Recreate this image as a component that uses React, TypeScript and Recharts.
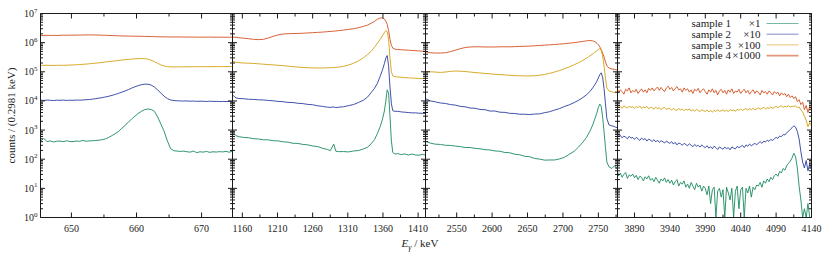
import { LineChart, Line, XAxis, YAxis } from 'recharts';

const W = 830;
const H = 263;
const TOP = 13.5;
const BOTTOM = 217.5;
const AXIS = '#1a1a1a';
const FONT = "'Liberation Serif', 'DejaVu Serif', 'Times New Roman', serif";

const seriesNames = ['sample 1', 'sample 2', 'sample 3', 'sample 4'];
const seriesScale = ['\u00d71', '\u00d710', '\u00d7100', '\u00d71000'];
const seriesColors = ['#1b8a5e', '#2b3d9e', '#d3a012', '#d2501f'];

// y axis: decades and minor multipliers
const yDecades = [1, 10, 100, 1e3, 1e4, 1e5, 1e6, 1e7];
const yMinorSteps = [2, 3, 4, 5, 6, 7, 8, 9];

// ---- panel 1 (Cs-137 region)
const p1Domain = [645.25, 674.75];
const p1Major = [650, 660, 670];
const p1Minor = [655, 665];
const p1Energy = [
  645.25, 645.75, 646.25, 646.75, 647.25, 647.75, 648.25, 648.75, 649.25, 649.75,
  650.25, 650.75, 651.25, 651.75, 652.25, 652.75, 653.25, 653.75, 654.25, 654.75,
  655.25, 655.75, 656.25, 656.75, 657.25, 657.75, 658.25, 658.75, 659.25, 659.75,
  660.25, 660.75, 661.25, 661.75, 662.25, 662.75, 663.25, 663.75, 664.25, 664.75,
  665.25, 665.75, 666.25, 666.75, 667.25, 667.75, 668.25, 668.75, 669.25, 669.75,
  670.25, 670.75, 671.25, 671.75, 672.25, 672.75, 673.25, 673.75, 674.25, 674.75,
];
const p1Sample1 = [
  410, 520, 400, 425, 390, 415, 420, 400, 430, 405,
  400, 420, 410, 440, 415, 425, 430, 440, 450, 470,
  500, 560, 650, 760, 900, 1150, 1450, 1850, 2400, 3000,
  3700, 4400, 5000, 5300, 5100, 4400, 2800, 1600, 900, 420,
  230, 195, 190, 185, 190, 180, 175, 190, 168, 180,
  175, 185, 172, 180, 176, 182, 178, 186, 174, 188,
];
const p1Sample2 = [
  1.06e4, 1.04e4, 1.07e4, 1.05e4, 1.03e4, 1.06e4, 1.05e4, 1.07e4, 1.04e4, 1.06e4,
  1.05e4, 1.07e4, 1.06e4, 1.08e4, 1.1e4, 1.12e4, 1.15e4, 1.2e4, 1.25e4, 1.3e4,
  1.37e4, 1.45e4, 1.55e4, 1.68e4, 1.83e4, 2.0e4, 2.2e4, 2.45e4, 2.75e4, 3.05e4,
  3.35e4, 3.6e4, 3.75e4, 3.75e4, 3.5e4, 3.0e4, 2.4e4, 1.85e4, 1.45e4, 1.2e4,
  1.08e4, 1.03e4, 1.01e4, 1.0e4, 9.9e3, 1.0e4, 9.8e3, 9.9e3, 9.7e3, 9.8e3,
  9.7e3, 9.6e3, 9.8e3, 9.6e3, 9.7e3, 9.5e3, 9.6e3, 9.5e3, 9.6e3, 9.5e3,
];
const p1Sample3 = [
  1.68e5, 1.66e5, 1.67e5, 1.65e5, 1.66e5, 1.67e5, 1.66e5, 1.68e5, 1.67e5, 1.7e5,
  1.72e5, 1.74e5, 1.77e5, 1.8e5, 1.84e5, 1.88e5, 1.93e5, 1.98e5, 2.03e5, 2.1e5,
  2.17e5, 2.24e5, 2.3e5, 2.37e5, 2.45e5, 2.52e5, 2.6e5, 2.66e5, 2.72e5, 2.78e5,
  2.83e5, 2.85e5, 2.82e5, 2.72e5, 2.5e5, 2.22e5, 1.95e5, 1.72e5, 1.58e5, 1.5e5,
  1.48e5, 1.47e5, 1.48e5, 1.47e5, 1.48e5, 1.49e5, 1.48e5, 1.49e5, 1.5e5, 1.49e5,
  1.5e5, 1.49e5, 1.5e5, 1.5e5, 1.51e5, 1.5e5, 1.51e5, 1.5e5, 1.52e5, 1.51e5,
];
const p1Sample4 = [
  1.78e6, 1.76e6, 1.79e6, 1.77e6, 1.78e6, 1.76e6, 1.78e6, 1.8e6, 1.79e6, 1.81e6,
  1.8e6, 1.82e6, 1.81e6, 1.83e6, 1.84e6, 1.85e6, 1.84e6, 1.83e6, 1.82e6, 1.8e6,
  1.79e6, 1.77e6, 1.75e6, 1.73e6, 1.72e6, 1.7e6, 1.69e6, 1.68e6, 1.67e6, 1.66e6,
  1.66e6, 1.65e6, 1.64e6, 1.63e6, 1.62e6, 1.6e6, 1.59e6, 1.58e6, 1.58e6, 1.57e6,
  1.57e6, 1.56e6, 1.57e6, 1.56e6, 1.56e6, 1.55e6, 1.56e6, 1.55e6, 1.55e6, 1.54e6,
  1.55e6, 1.54e6, 1.55e6, 1.54e6, 1.54e6, 1.53e6, 1.54e6, 1.53e6, 1.54e6, 1.53e6,
];

// ---- panel 2 (1368 keV region)
const p2Domain = [1146, 1420.5];
const p2Major = [1160, 1210, 1260, 1310, 1360, 1410];
const p2Minor = [1185, 1235, 1285, 1335, 1385];
const p2Energy = [
  1146, 1151, 1155, 1162, 1169, 1176, 1183, 1190, 1197, 1204,
  1211, 1218, 1225, 1232, 1239, 1246, 1253, 1260, 1267, 1274,
  1281, 1285, 1290, 1293, 1297, 1304, 1311, 1318, 1325, 1332,
  1338, 1343, 1348, 1352, 1356, 1359, 1362, 1364, 1366, 1368,
  1370, 1372, 1374, 1377, 1381, 1386, 1391, 1396, 1401, 1406,
  1411, 1416, 1420.5,
];
const p2Sample1 = [
  850, 640, 590, 560, 545, 505, 495, 465, 462, 432,
  425, 395, 385, 352, 348, 322, 312, 285, 272, 238,
  216, 196, 330, 188, 182, 183, 178, 192, 198, 224,
  258, 335, 470, 760, 1300, 2200, 4500, 9500, 2.4e4, 1.9e4,
  3000, 420, 170, 150, 156, 144, 152, 139, 150, 141,
  137, 146, 140,
];
const p2Sample2 = [
  1.6e4, 1.27e4, 1.21e4, 1.19e4, 1.14e4, 1.13e4, 1.09e4, 1.08e4, 1.04e4, 1.01e4,
  9.6e3, 9.4e3, 8.9e3, 8.8e3, 8.3e3, 8.1e3, 7.6e3, 7.4e3, 6.8e3, 6.5e3,
  6.1e3, 6.0e3, 6.2e3, 5.9e3, 6.1e3, 6.3e3, 6.9e3, 7.5e3, 8.8e3, 1.05e4,
  1.35e4, 1.9e4, 2.7e4, 4.0e4, 7.0e4, 1.1e5, 1.9e5, 2.9e5, 3.6e5, 1.6e5,
  3.0e4, 8e3, 4.6e3, 4.4e3, 4.4e3, 4.2e3, 4.1e3, 4.0e3, 3.9e3, 3.9e3,
  3.8e3, 3.75e3, 3.7e3,
];
const p2Sample3 = [
  2.3e5, 2.12e5, 2.06e5, 2.0e5, 1.97e5, 1.93e5, 1.88e5, 1.82e5, 1.77e5, 1.72e5,
  1.67e5, 1.62e5, 1.56e5, 1.5e5, 1.45e5, 1.41e5, 1.38e5, 1.36e5, 1.35e5, 1.35e5,
  1.37e5, 1.38e5, 1.4e5, 1.42e5, 1.45e5, 1.55e5, 1.7e5, 1.95e5, 2.35e5, 3.0e5,
  3.9e5, 5.0e5, 7.0e5, 9.5e5, 1.3e6, 1.7e6, 2.2e6, 2.6e6, 2.4e6, 1.3e6,
  3.0e5, 1.0e5, 7.2e4, 6.8e4, 6.6e4, 6.5e4, 6.3e4, 6.2e4, 6.1e4, 6.0e4,
  5.9e4, 5.9e4, 5.8e4,
];
const p2Sample4 = [
  1.55e6, 1.52e6, 1.48e6, 1.42e6, 1.36e6, 1.3e6, 1.27e6, 1.3e6, 1.45e6, 1.65e6,
  1.85e6, 1.98e6, 2.03e6, 2.05e6, 2.07e6, 2.1e6, 2.15e6, 2.2e6, 2.25e6, 2.3e6,
  2.38e6, 2.42e6, 2.47e6, 2.52e6, 2.58e6, 2.7e6, 2.85e6, 3.0e6, 3.25e6, 3.6e6,
  4.0e6, 4.6e6, 5.4e6, 6.3e6, 7.0e6, 7.1e6, 6.5e6, 5.5e6, 4.2e6, 2.6e6,
  1.3e6, 8.0e5, 6.5e5, 6.0e5, 5.8e5, 5.7e5, 5.6e5, 5.5e5, 5.4e5, 5.3e5,
  5.2e5, 5.1e5, 5.0e5,
];

// ---- panel 3 (2754 keV region)
const p3Domain = [2506, 2777];
const p3Major = [2550, 2600, 2650, 2700, 2750];
const p3Minor = [2525, 2575, 2625, 2675, 2725, 2775];
const p3Energy = [
  2506, 2513, 2520, 2527, 2534, 2541, 2548, 2555, 2562, 2569,
  2576, 2583, 2590, 2597, 2604, 2611, 2618, 2625, 2632, 2639,
  2646, 2653, 2660, 2667, 2674, 2681, 2688, 2695, 2702, 2709,
  2716, 2722, 2728, 2733, 2738, 2742, 2745, 2748, 2750, 2752,
  2754, 2756, 2758, 2760, 2762, 2765, 2769, 2773, 2777,
];
const p3Sample1 = [
  420, 355, 328, 322, 300, 298, 282, 272, 252, 252,
  236, 228, 212, 208, 192, 188, 170, 167, 148, 142,
  126, 122, 106, 101, 93, 94, 94, 102, 116, 148,
  188, 262, 380, 550, 900, 1500, 2400, 4000, 6000, 7800,
  6500, 2800, 900, 250, 80, 55, 48, 60, 45,
];
const p3Sample2 = [
  1.2e4, 1.0e4, 9.3e3, 8.5e3, 8.2e3, 7.5e3, 7.2e3, 6.5e3, 6.3e3, 5.7e3,
  5.6e3, 5.1e3, 5.0e3, 4.5e3, 4.5e3, 4.1e3, 4.05e3, 3.75e3, 3.7e3, 3.5e3,
  3.5e3, 3.4e3, 3.55e3, 3.6e3, 3.95e3, 4.25e3, 4.85e3, 5.45e3, 6.45e3, 7.35e3,
  8.8e3, 1.05e4, 1.3e4, 1.6e4, 2.1e4, 2.8e4, 3.6e4, 4.8e4, 6.2e4, 8.0e4,
  9.2e4, 6.5e4, 2.7e4, 8e3, 2.5e3, 1.5e3, 1.4e3, 1.3e3, 1.2e3,
];
const p3Sample3 = [
  1.0e5, 1.0e5, 9.8e4, 9.5e4, 9.8e4, 1.03e5, 1.06e5, 1.05e5, 1.02e5, 9.8e4,
  9.4e4, 9.1e4, 8.8e4, 8.5e4, 8.2e4, 8.0e4, 7.8e4, 7.6e4, 7.4e4, 7.3e4,
  7.2e4, 7.2e4, 7.3e4, 7.6e4, 8.1e4, 8.8e4, 9.8e4, 1.1e5, 1.27e5, 1.48e5,
  1.75e5, 2.05e5, 2.45e5, 2.9e5, 3.5e5, 4.1e5, 4.7e5, 5.3e5, 5.8e5, 6.2e5,
  5.5e5, 3.5e5, 1.6e5, 6e4, 2.8e4, 2.2e4, 2.05e4, 1.95e4, 1.9e4,
];
const p3Sample4 = [
  4.8e5, 4.5e5, 4.4e5, 4.4e5, 4.5e5, 4.9e5, 5.5e5, 6.2e5, 6.8e5, 7.1e5,
  7.2e5, 7.2e5, 7.1e5, 7.1e5, 7.1e5, 7.2e5, 7.2e5, 7.2e5, 7.3e5, 7.4e5,
  7.5e5, 7.6e5, 7.8e5, 8.0e5, 8.2e5, 8.4e5, 8.6e5, 8.9e5, 9.2e5, 9.6e5,
  1.0e6, 1.05e6, 1.1e6, 1.15e6, 1.18e6, 1.15e6, 1.08e6, 9.5e5, 8.5e5, 7.2e5,
  5.8e5, 4.4e5, 3.2e5, 2.2e5, 1.6e5, 1.35e5, 1.25e5, 1.2e5, 1.15e5,
];

// ---- panel 4 (high energy region), 2.5 keV spacing
const p4Domain = [3866, 4140];
const p4Major = [3890, 3940, 3990, 4040, 4090, 4140];
const p4Minor = [3915, 3965, 4015, 4065, 4115];
const p4Energy = [
  3866, 3867.5, 3870, 3872.5, 3875, 3877.5, 3880, 3882.5, 3885, 3887.5,
  3890, 3892.5, 3895, 3897.5, 3900, 3902.5, 3905, 3907.5, 3910, 3912.5,
  3915, 3917.5, 3920, 3922.5, 3925, 3927.5, 3930, 3932.5, 3935, 3937.5,
  3940, 3942.5, 3945, 3947.5, 3950, 3952.5, 3955, 3957.5, 3960, 3962.5,
  3965, 3967.5, 3970, 3972.5, 3975, 3977.5, 3980, 3982.5, 3985, 3987.5,
  3990, 3992.5, 3995, 3997.5, 4000, 4002.5, 4005, 4007.5, 4010, 4012.5,
  4015, 4017.5, 4020, 4022.5, 4025, 4027.5, 4030, 4032.5, 4035, 4037.5,
  4040, 4042.5, 4045, 4047.5, 4050, 4052.5, 4055, 4057.5, 4060, 4062.5,
  4065, 4067.5, 4070, 4072.5, 4075, 4077.5, 4080, 4082.5, 4085, 4087.5,
  4090, 4092.5, 4095, 4097.5, 4100, 4102.5, 4105, 4107.5, 4110, 4112.5,
  4115, 4117.5, 4120, 4122.5, 4125, 4127.5, 4130, 4132.5, 4135, 4137.5,
  4140,
];
const p4Sample1 = [
  38, 27, 33, 24, 30, 35, 22, 29, 26, 31,
  23, 28, 20, 26, 24, 18, 25, 21, 27, 19,
  22, 17, 24, 19, 15, 21, 18, 23, 16, 20,
  15, 19, 13, 17, 20, 12, 16, 14, 18, 11,
  14, 10, 16, 12, 9, 15, 11, 13, 8, 12,
  10, 6, 12, 3, 9, 11, 1, 8, 10, 5,
  9, 1, 11, 7, 4, 10, 1, 8, 12, 2,
  9, 11, 1, 10, 7, 12, 5, 11, 9, 13,
  12, 16, 11, 18, 15, 21, 17, 24, 20, 27,
  31, 26, 38, 34, 48, 42, 60, 72, 85, 110,
  160, 120, 50, 12, 4, 1, 2, 1, 3, 1,
  1,
];
const p4Sample2 = [
  700, 600, 660, 540, 620, 570, 500, 610, 530, 560,
  480, 560, 500, 440, 530, 470, 510, 420, 490, 450,
  410, 470, 390, 450, 380, 430, 400, 360, 420, 380,
  350, 400, 330, 380, 310, 360, 340, 300, 350, 320,
  290, 340, 300, 270, 320, 280, 300, 260, 310, 270,
  250, 290, 240, 270, 230, 280, 250, 215, 265, 240,
  220, 260, 230, 250, 210, 265, 240, 225, 275, 250,
  270, 300, 250, 310, 280, 330, 290, 320, 350, 310,
  360, 400, 350, 420, 390, 450, 410, 480, 440, 500,
  560, 520, 620, 600, 700, 680, 820, 900, 1050, 1200,
  1400, 1250, 900, 500, 180, 80, 50, 90, 40, 70,
  45,
];
const p4Sample3 = [
  6.8e3, 5.9e3, 6.4e3, 5.6e3, 6.9e3, 6.1e3, 5.7e3, 6.6e3, 6.0e3, 6.3e3,
  5.6e3, 6.4e3, 5.9e3, 6.7e3, 5.5e3, 6.2e3, 5.8e3, 6.5e3, 5.4e3, 6.0e3,
  5.8e3, 5.2e3, 6.1e3, 5.4e3, 5.9e3, 5.0e3, 5.7e3, 6.0e3, 5.1e3, 5.5e3,
  5.4e3, 4.8e3, 5.6e3, 5.0e3, 4.7e3, 5.5e3, 4.9e3, 5.3e3, 4.6e3, 5.2e3,
  4.9e3, 5.3e3, 4.5e3, 5.0e3, 4.4e3, 5.2e3, 4.7e3, 4.3e3, 5.0e3, 4.6e3,
  4.4e3, 4.9e3, 4.2e3, 4.7e3, 4.1e3, 4.8e3, 4.3e3, 5.0e3, 4.4e3, 4.6e3,
  4.9e3, 4.4e3, 4.8e3, 4.3e3, 5.1e3, 4.6e3, 4.9e3, 4.4e3, 5.2e3, 4.7e3,
  5.3e3, 4.7e3, 5.1e3, 5.5e3, 4.8e3, 5.4e3, 5.0e3, 5.6e3, 4.9e3, 5.3e3,
  5.8e3, 5.2e3, 5.6e3, 6.0e3, 5.3e3, 5.9e3, 5.5e3, 6.2e3, 5.6e3, 6.0e3,
  6.5e3, 5.9e3, 6.4e3, 6.8e3, 6.0e3, 6.6e3, 6.2e3, 6.9e3, 6.1e3, 6.6e3,
  6.4e3, 6.8e3, 5.8e3, 6.2e3, 4.9e3, 4.2e3, 3.0e3, 2.2e3, 1.3e3, 1.8e3,
  1.4e3,
];
const p4Sample4 = [
  2.6e4, 1.9e4, 2.4e4, 2.1e4, 1.7e4, 2.5e4, 2.2e4, 2.8e4, 1.9e4, 2.3e4,
  2.0e4, 2.5e4, 1.8e4, 2.2e4, 2.6e4, 2.0e4, 2.4e4, 1.9e4, 2.7e4, 2.3e4,
  2.8e4, 2.2e4, 2.6e4, 3.0e4, 2.3e4, 2.9e4, 2.4e4, 2.1e4, 2.8e4, 3.2e4,
  2.5e4, 2.9e4, 2.2e4, 2.7e4, 3.1e4, 2.4e4, 2.6e4, 2.0e4, 2.8e4, 2.3e4,
  2.6e4, 2.0e4, 2.4e4, 1.8e4, 2.5e4, 2.2e4, 2.7e4, 1.9e4, 2.3e4, 2.6e4,
  2.1e4, 1.7e4, 2.4e4, 2.0e4, 2.6e4, 1.9e4, 2.3e4, 1.6e4, 2.2e4, 2.5e4,
  1.9e4, 2.3e4, 1.7e4, 2.4e4, 2.0e4, 2.6e4, 1.8e4, 2.2e4, 2.0e4, 2.5e4,
  1.8e4, 2.2e4, 2.5e4, 1.9e4, 2.3e4, 1.7e4, 2.1e4, 2.4e4, 1.8e4, 2.2e4,
  2.0e4, 1.6e4, 2.3e4, 1.9e4, 2.1e4, 1.7e4, 2.2e4, 1.9e4, 1.6e4, 2.1e4,
  1.8e4, 2.0e4, 1.5e4, 1.9e4, 1.6e4, 1.8e4, 1.4e4, 1.7e4, 1.3e4, 1.5e4,
  1.2e4, 1.4e4, 9.5e3, 1.1e4, 7.5e3, 9.0e3, 5.0e3, 7.0e3, 4.0e3, 6.5e3,
  5.0e3,
];

type Row = { e: number; s1: number; s2: number; s3: number; s4: number };

function buildRows(energy: number[], a: number[], b: number[], c: number[], d: number[]): Row[] {
  return energy.map((e, i) => ({ e, s1: a[i], s2: b[i], s3: c[i], s4: d[i] }));
}

const yTicks: number[] = [];
yDecades.forEach((dec, i) => {
  yTicks.push(dec);
  if (i < yDecades.length - 1) yMinorSteps.forEach((m) => yTicks.push(m * dec));
});

const panels = [
  { left: 40.5, right: 232.5, domain: p1Domain, major: p1Major, minor: p1Minor,
    rows: buildRows(p1Energy, p1Sample1, p1Sample2, p1Sample3, p1Sample4) },
  { left: 232.5, right: 425.5, domain: p2Domain, major: p2Major, minor: p2Minor,
    rows: buildRows(p2Energy, p2Sample1, p2Sample2, p2Sample3, p2Sample4) },
  { left: 425.5, right: 617.5, domain: p3Domain, major: p3Major, minor: p3Minor,
    rows: buildRows(p3Energy, p3Sample1, p3Sample2, p3Sample3, p3Sample4) },
  { left: 617.5, right: 811.5, domain: p4Domain, major: p4Major, minor: p4Minor,
    rows: buildRows(p4Energy, p4Sample1, p4Sample2, p4Sample3, p4Sample4) },
];

// axis boxes: recharts skips axes of zero size, so give them room inside the margins
const LEFT_W = 30;
const RIGHT_W = 10;
const BOTTOM_H = 30;
const TOP_H = 10;

function xTick(major: number[], side: 'top' | 'bottom') {
  return (props: any) => {
    const { x, y, payload } = props;
    const isMajor = major.includes(payload.value);
    const len = isMajor ? 5 : 3;
    const dir = side === 'bottom' ? -1 : 1;
    return (
      <g>
        <line x1={x} y1={y} x2={x} y2={y + dir * len} stroke={AXIS} strokeWidth={1} />
        {side === 'bottom' && isMajor && (
          <text x={x} y={y + 14.5} textAnchor="middle" fontSize={10} fontFamily={FONT} fill="#222">
            {payload.value}
          </text>
        )}
      </g>
    );
  };
}

function yTick(side: 'left' | 'right', showLabels: boolean) {
  return (props: any) => {
    const { x, y, payload } = props;
    const v = payload.value;
    const isMajor = yDecades.includes(v);
    const len = isMajor ? 4.5 : 2.5;
    const dir = side === 'left' ? 1 : -1;
    const exp = Math.round(Math.log10(v));
    return (
      <g>
        <line x1={x} y1={y} x2={x + dir * len} y2={y} stroke={AXIS} strokeWidth={1} />
        {showLabels && isMajor && (
          <text x={x - 3} y={y + 3.5} textAnchor="end" fontSize={10} fontFamily={FONT} fill="#222">
            10<tspan fontSize={7} dy={-4.5}>{exp}</tspan>
          </text>
        )}
      </g>
    );
  };
}

function Panel({ p, index }: { p: (typeof panels)[number]; index: number }) {
  const xTicks = [...p.major, ...p.minor].sort((a, b) => a - b);
  const keys = ['s4', 's3', 's2', 's1'];
  return (
    <div style={{ position: 'absolute', left: 0, top: 0 }}>
      <LineChart
        width={W}
        height={H}
        data={p.rows}
        margin={{
          top: TOP - TOP_H,
          bottom: H - BOTTOM - BOTTOM_H,
          left: p.left - LEFT_W,
          right: W - p.right - RIGHT_W,
        }}
      >
        <XAxis
          xAxisId="b"
          dataKey="e"
          type="number"
          domain={p.domain}
          allowDataOverflow
          ticks={xTicks}
          interval={0}
          height={BOTTOM_H}
          tickSize={0}
          tickMargin={0}
          tickLine={false}
          axisLine={{ stroke: AXIS, strokeWidth: 1 }}
          tick={xTick(p.major, 'bottom')}
        />
        <XAxis
          xAxisId="t"
          orientation="top"
          dataKey="e"
          type="number"
          domain={p.domain}
          allowDataOverflow
          ticks={xTicks}
          interval={0}
          height={TOP_H}
          tickSize={0}
          tickMargin={0}
          tickLine={false}
          axisLine={{ stroke: AXIS, strokeWidth: 1 }}
          tick={xTick(p.major, 'top')}
        />
        <YAxis
          yAxisId="l"
          type="number"
          scale="log"
          domain={[1, 1e7]}
          allowDataOverflow
          ticks={yTicks}
          interval={0}
          width={LEFT_W}
          tickSize={0}
          tickMargin={0}
          tickLine={false}
          axisLine={{ stroke: AXIS, strokeWidth: 1 }}
          tick={yTick('left', index === 0)}
        />
        <YAxis
          yAxisId="r"
          orientation="right"
          type="number"
          scale="log"
          domain={[1, 1e7]}
          allowDataOverflow
          ticks={yTicks}
          interval={0}
          width={RIGHT_W}
          tickSize={0}
          tickMargin={0}
          tickLine={false}
          axisLine={{ stroke: AXIS, strokeWidth: 1 }}
          tick={yTick('right', false)}
        />
        {keys.map((k) => (
          <Line
            key={k}
            xAxisId="b"
            yAxisId="l"
            dataKey={k}
            type="linear"
            stroke={seriesColors[Number(k[1]) - 1]}
            strokeWidth={0.9}
            dot={false}
            activeDot={false}
            isAnimationActive={false}
          />
        ))}
      </LineChart>
    </div>
  );
}

export default function App() {
  const legendX = 691.5;
  const legendTop = 23.5;
  const rowGap = 10.7;
  return (
    <div
      style={{
        position: 'absolute',
        left: 0,
        top: 0,
        width: W,
        height: H,
        background: '#fff',
        fontFamily: FONT,
        overflow: 'hidden',
      }}
    >
      {panels.map((p, i) => (
        <Panel key={i} p={p} index={i} />
      ))}
      <svg width={W} height={H} style={{ position: 'absolute', left: 0, top: 0 }}>
        <text
          transform="translate(15,115.5) rotate(-90)"
          textAnchor="middle"
          fontSize={11}
          fontFamily={FONT}
          fill="#222"
        >
          counts / (0.2981 keV)
        </text>
        <text x={420} y={247} textAnchor="middle" fontSize={11} fontFamily={FONT} fill="#222">
          <tspan fontStyle="italic">E</tspan>
          <tspan fontStyle="italic" fontSize={8} dy={2.5}>γ</tspan>
          <tspan dy={-2.5}> / keV</tspan>
        </text>
        {seriesNames.map((name, i) => {
          const y = legendTop + i * rowGap;
          return (
            <g key={name}>
              <text x={legendX} y={y + 3.8} fontSize={11} fontFamily={FONT} fill="#222">
                {name}
              </text>
              <text x={760.5} y={y + 3.8} textAnchor="end" fontSize={11} fontFamily={FONT} fill="#222">
                {seriesScale[i]}
              </text>
              <line
                x1={766.5}
                x2={798.5}
                y1={y}
                y2={y}
                stroke={seriesColors[i]}
                strokeWidth={i === 3 ? 1.6 : 1}
                strokeOpacity={0.6}
              />
            </g>
          );
        })}
      </svg>
    </div>
  );
}
